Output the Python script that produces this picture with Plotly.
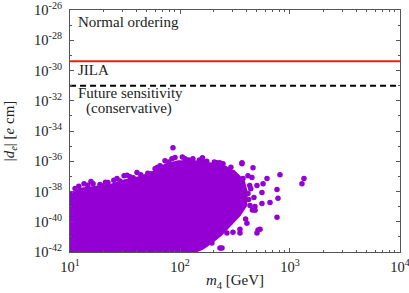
import plotly.graph_objects as go

# ---------------- data ----------------
# dense core of the scan (outline of the solid cloud)
core_m4 = [10, 10, 12.3, 16.9, 23.1, 31.6, 43.3, 59.3, 73.1, 95.9, 137, 187,
           257, 320, 380, 405, 400, 350, 290, 236, 192, 160, 137]
core_de = [1e-42, 5.5e-39, 1.5e-38, 2.0e-38, 2.7e-38, 5.5e-38, 9.0e-38, 2.2e-37,
           6.0e-37, 1.0e-36, 1.0e-36, 7.5e-37, 4.5e-37, 1.8e-37, 5.3e-38,
           8.5e-39, 1.2e-39, 2.7e-40, 5.9e-41, 1.3e-41, 3.9e-42, 1.6e-42, 1e-42]

# individually visible scan points
pts_m4 = [366, 811, 415, 451, 618, 374, 569, 501, 762, 556, 415, 658, 556, 778,
          433, 481, 762, 406, 534, 501, 351, 303, 267, 231, 200, 176, 195, 241,
          152, 131, 116, 100, 246, 217, 169, 303, 267, 316, 246, 1340, 1285,
          512, 351, 187, 86, 86.3, 73, 84.5, 59.3, 40.6, 31, 22.1, 16.2, 13.4,
          11.1, 10, 48.1, 26.7, 366, 217, 461, 231, 94, 217, 131, 162, 111,
          65.8, 35.1, 18.7, 430, 470, 455, 420, 395, 440, 480, 300, 330, 280,
          14.5, 19.5, 28.5, 37.5, 54, 68, 120, 150, 175, 205,
          12, 15.5, 21, 25, 33, 44, 51, 62, 79, 90, 105, 160, 230, 290]
pts_de = [6.9e-37, 1.3e-37, 1.1e-37, 8.3e-38, 7.1e-38, 7.1e-38, 3.3e-38, 2.5e-38,
          1.35e-38, 8.6e-39, 7.4e-39, 1.9e-39, 1.6e-39, 3.5e-39, 1.2e-39, 5.7e-40,
          2.0e-40, 8.0e-41, 3.2e-41, 1.8e-41, 3.2e-41, 2.0e-41, 1.8e-41, 5.9e-41,
          1.3e-41, 8.3e-42, 3.9e-42, 1.8e-42, 3.9e-42, 4.5e-42, 1.3e-41, 1.35e-42,
          6.9e-37, 3.75e-37, 4.4e-37, 1.8e-37, 1.8e-37, 3.9e-38, 8.3e-38, 7.1e-38,
          3.3e-38, 2.8e-41, 1.8e-41, 9.6e-42, 1.35e-42, 7.7e-36, 1.08e-36, 1.46e-36,
          3.2e-37, 1.8e-37, 1.1e-37, 3.9e-38, 3.3e-38, 3.3e-38, 1.6e-38, 7.4e-39,
          8.3e-38, 7.1e-38, 8.0e-37, 8.0e-37, 3.75e-37, 1.8e-42, 3.9e-42, 4.4e-41,
          1.46e-36, 1.08e-36, 1.46e-36, 5.1e-37, 9.6e-38, 2.9e-38, 2.5e-38, 4.0e-39,
          6.0e-40, 3.0e-39, 1.5e-40, 1.5e-38, 1.0e-39, 8.0e-38, 3.0e-40, 1.2e-40,
          2.6e-38, 2.3e-38, 5.0e-38, 8.0e-38, 1.5e-37, 4.0e-37, 1.2e-36, 1.2e-36,
          1.0e-36, 9.0e-37,
          2.2e-38, 4.5e-38, 4.0e-38, 5.5e-38, 1.2e-37, 1.3e-37, 1.6e-37, 3.8e-37,
          9.0e-37, 1.8e-36, 1.9e-36, 1.7e-36, 8.0e-37, 4.0e-37]

jila_bound = 4.1e-30
future_bound = 1e-31
x_range = [10, 1e4]

x_ticks = [10, 100, 1000, 10000]
x_ticktext = ["10<sup>1</sup>", "10<sup>2</sup>", "10<sup>3</sup>", "10<sup>4</sup>"]
x_minor = [m * 10 ** e for e in (1, 2, 3) for m in range(2, 10)]
y_exps = [-42, -40, -38, -36, -34, -32, -30, -28, -26]
y_ticks = [10.0 ** e for e in y_exps]
y_ticktext = ["10<sup>%d</sup>" % e for e in y_exps]
y_minor = [10.0 ** e for e in range(-41, -26, 2)]

PURPLE = "#9400D3"
FONT = "Liberation Serif"
TXT = "#222222"

fig = go.Figure()
fig.add_trace(go.Scatter(x=core_m4, y=core_de, mode="lines", fill="toself",
                         fillcolor=PURPLE, line=dict(color=PURPLE, width=2),
                         hoverinfo="skip", showlegend=False))
fig.add_trace(go.Scatter(x=pts_m4, y=pts_de, mode="markers",
                         marker=dict(color=PURPLE, size=5.5, symbol="circle"),
                         showlegend=False))
fig.add_trace(go.Scatter(x=x_range, y=[jila_bound, jila_bound], mode="lines",
                         line=dict(color="#e8200c", width=2), showlegend=False))
fig.add_trace(go.Scatter(x=x_range, y=[future_bound, future_bound], mode="lines",
                         line=dict(color="black", width=2, dash="6px,4px"),
                         showlegend=False))

axis_common = dict(showline=True, linecolor="#555555", linewidth=1, mirror="ticks",
                   ticks="inside", ticklen=4, tickcolor="#555555", showgrid=False,
                   zeroline=False, automargin=False, ticklabeloverflow="allow",
                   tickfont=dict(family=FONT, size=14.5, color=TXT))

fig.update_xaxes(type="log", range=[0.9995, 4.0005], tickvals=x_ticks,
                 ticktext=x_ticktext, ticklabelstandoff=2,
                 minor=dict(tickvals=x_minor, ticks="inside", ticklen=2,
                            tickcolor="#555555"),
                 title=dict(text="<i>m</i><sub>4</sub> [GeV]", standoff=0,
                            font=dict(family=FONT, size=15, color=TXT)),
                 **axis_common)
fig.update_yaxes(type="log", range=[-42.003, -25.997], tickvals=y_ticks,
                 ticktext=y_ticktext, ticklabelstandoff=4,
                 minor=dict(tickvals=y_minor, ticks="inside", ticklen=2,
                            tickcolor="#555555"),
                 title=dict(text="|<i>d<sub>e</sub></i>| [<i>e</i> cm]", standoff=15,
                            font=dict(family=FONT, size=15, color=TXT)),
                 **axis_common)

ann_font = dict(family=FONT, size=15, color=TXT)
for txt, xp, yp in [("Normal ordering", 0.018, 0.951),
                    ("JILA", 0.018, 0.754),
                    ("Future sensitivity", 0.018, 0.655),
                    ("(conservative)", 0.042, 0.592)]:
    fig.add_annotation(text=txt, x=xp, y=yp, xref="paper", yref="paper",
                       xanchor="left", yanchor="middle", showarrow=False,
                       font=ann_font)

fig.update_layout(width=409, height=293, margin=dict(l=70, r=9, t=10, b=41),
                  paper_bgcolor="white", plot_bgcolor="white",
                  font=dict(family=FONT))
fig.write_html("out.html", config={"displayModeBar": False},
               post_script="document.body.style.margin='0';"
                           "document.body.style.overflow='hidden';")
